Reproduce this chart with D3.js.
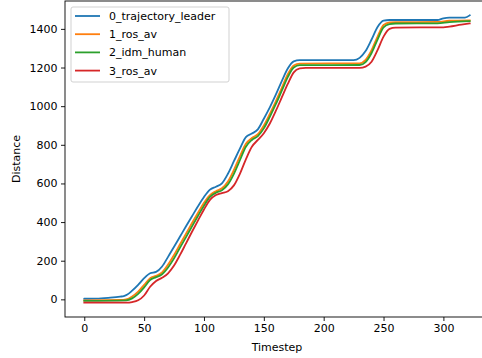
<!DOCTYPE html>
<html><head><meta charset="utf-8">
<script src="https://cdn.jsdelivr.net/npm/d3@7"></script>
<style>body{margin:0;background:#fff}svg{display:block}text{font-family:"DejaVu Sans",sans-serif}</style>
</head><body><svg id="c" width="482" height="358"></svg>
<script>
const seriesNames = ["0_trajectory_leader","1_ros_av","2_idm_human","3_ros_av"];
const colors = ["#1f77b4","#ff7f0e","#2ca02c","#d62728"];
const xTicks = [0,50,100,150,200,250,300];
const yTicks = [0,200,400,600,800,1000,1200,1400];

const leader = [[0,3],[10,4],[20,8],[30,14],[33,17],[36,25],[40,45],[45,75],[50,110],[55,135],[60,142],[65,170],[70,220],[75,272],[80,325],[85,378],[90,430],[95,482],[100,530],[105,568],[110,583],[115,600],[120,650],[125,715],[130,780],[135,840],[140,858],[145,880],[150,935],[155,994],[160,1060],[165,1130],[170,1195],[175,1232],[180,1238],[225,1238],[230,1250],[235,1285],[240,1345],[245,1410],[250,1443],[255,1446],[295,1446],[300,1455],[305,1458],[318,1458],[322,1470]];
const rosAv1 = [[0,-5],[30,-3],[35,0],[40,15],[45,40],[50,75],[55,110],[60,122],[65,140],[70,180],[75,230],[80,285],[85,340],[90,395],[95,448],[100,500],[105,540],[110,560],[115,575],[120,610],[125,670],[130,740],[135,805],[140,835],[145,855],[150,900],[155,960],[160,1025],[165,1095],[170,1165],[175,1210],[180,1220],[230,1222],[235,1240],[240,1290],[245,1360],[250,1420],[255,1433],[260,1435],[295,1436],[305,1442],[322,1444]];
const idmHuman = [[0,-8],[35,-5],[40,5],[45,28],[50,62],[55,100],[60,115],[65,130],[70,165],[75,212],[80,268],[85,322],[90,378],[95,432],[100,485],[105,530],[110,552],[115,565],[120,595],[125,650],[130,720],[135,790],[140,825],[145,845],[150,885],[155,945],[160,1010],[165,1080],[170,1150],[175,1200],[180,1212],[230,1213],[235,1228],[240,1275],[245,1345],[250,1408],[255,1425],[260,1428],[295,1429],[305,1435],[322,1440]];
const rosAv3 = [[0,-17],[35,-17],[40,-14],[45,-5],[50,20],[55,65],[60,95],[65,112],[70,135],[75,175],[80,230],[85,290],[90,350],[95,408],[100,465],[105,515],[110,540],[115,550],[120,560],[125,590],[130,650],[135,725],[140,790],[145,825],[150,860],[155,910],[160,975],[165,1045],[170,1115],[175,1175],[180,1195],[185,1198],[230,1198],[235,1205],[240,1230],[245,1290],[250,1360],[255,1400],[260,1407],[300,1408],[305,1412],[315,1422],[322,1428]];
const allSeries = [leader, rosAv1, idmHuman, rosAv3];

const svg = d3.select("#c");
const L=65, T=1, R=489, B=317;
const all = allSeries.flat();
const [x0,x1] = d3.extent(all,d=>d[0]); const [y0,y1]=d3.extent(all,d=>d[1]);
const mx=(x1-x0)*0.05, my=(y1-y0)*0.05;
const x = d3.scaleLinear().domain([x0-mx,x1+mx]).range([L,R]);
const y = d3.scaleLinear().domain([y0-my,y1+my]).range([B,T]);
const FS = 11;

const g = svg.append("g");
const line = d3.line().x(d=>x(d[0])).y(d=>y(d[1])).curve(d3.curveMonotoneX);
allSeries.forEach((s,i)=>{
  g.append("path").attr("d",line(s)).attr("fill","none").attr("stroke",colors[i]).attr("stroke-width",1.8).attr("stroke-linejoin","round").attr("stroke-linecap","square");
});

const xa = svg.append("g").attr("transform",`translate(0,${B})`).call(d3.axisBottom(x).tickValues(xTicks).tickSize(4).tickPadding(3.5).tickFormat(d3.format("d")));
const ya = svg.append("g").attr("transform",`translate(${L},0)`).call(d3.axisLeft(y).tickValues(yTicks).tickSize(4).tickPadding(3.5).tickFormat(d3.format("d")));
[xa,ya].forEach(a=>{a.select(".domain").remove();a.selectAll("text").attr("font-size",FS).attr("fill","#000").attr("font-family","DejaVu Sans");a.selectAll("line").attr("stroke","#000").attr("stroke-width",0.9);});
svg.append("rect").attr("x",L).attr("y",T).attr("width",R-L).attr("height",B-T).attr("fill","none").attr("stroke","#000").attr("stroke-width",0.9);

svg.append("text").attr("x",(L+R)/2).attr("y",351).attr("text-anchor","middle").attr("font-size",FS).text("Timestep");
svg.append("text").attr("transform",`translate(20,${(T+B)/2}) rotate(-90)`).attr("text-anchor","middle").attr("font-size",FS).text("Distance");

const lg = svg.append("g");
lg.append("rect").attr("x",71).attr("y",7).attr("width",158).attr("height",75).attr("rx",2).attr("fill","#fff").attr("fill-opacity",0.8).attr("stroke","#ccc").attr("stroke-width",0.9);
seriesNames.forEach((n,i)=>{
  const yy = 16+i*18.2;
  lg.append("line").attr("x1",75).attr("x2",100).attr("y1",yy).attr("y2",yy).attr("stroke",colors[i]).attr("stroke-width",1.8);
  lg.append("text").attr("x",109).attr("y",yy+4).attr("font-size",FS).text(n);
});
</script></body></html>
